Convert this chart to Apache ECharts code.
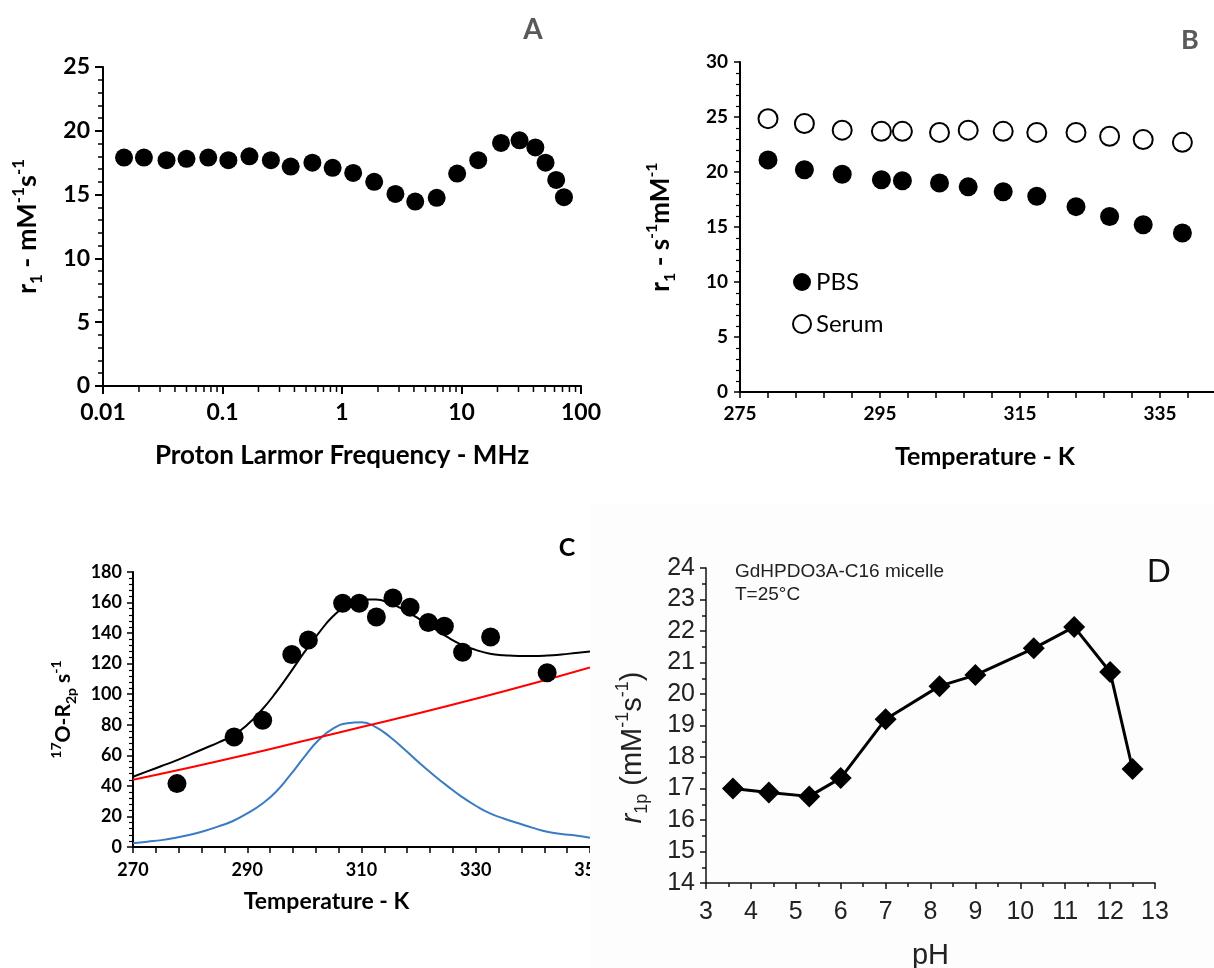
<!DOCTYPE html>
<html><head><meta charset="utf-8">
<script src="https://cdn.jsdelivr.net/npm/echarts@6/dist/echarts.min.js"></script>
<style>
html,body{margin:0;padding:0;background:#fff;width:1214px;height:968px;overflow:hidden;}
.p{position:absolute;overflow:hidden;}
#pa{left:0;top:0;width:607px;height:490px;}
#pb{left:607px;top:0;width:607px;height:490px;}
#pc{left:0;top:490px;width:590px;height:478px;}
#pd{left:590px;top:505px;width:624px;height:463px;background:#fdfdfd;}
</style></head><body>
<div id="pa" class="p"></div>
<div id="pb" class="p"></div>
<div id="pc" class="p"></div>
<div id="pd" class="p"></div>
<script>
// ---------- Panel A: NMRD profile ----------
const freqA = [0.015, 0.022, 0.034, 0.05, 0.076, 0.112, 0.168, 0.254, 0.372, 0.565, 0.835, 1.24, 1.86, 2.8, 4.1, 6.2, 9.2, 13.8, 21.4, 30.6, 41.5, 50.5, 62, 72];
const r1A = [17.9, 17.9, 17.7, 17.8, 17.9, 17.7, 18.0, 17.7, 17.2, 17.5, 17.1, 16.7, 16.0, 15.05, 14.45, 14.75, 16.65, 17.7, 19.05, 19.25, 18.7, 17.5, 16.15, 14.8];
const xMinorA = [0.02,0.03,0.04,0.05,0.06,0.07,0.08,0.09, 0.2,0.3,0.4,0.5,0.6,0.7,0.8,0.9, 2,3,4,5,6,7,8,9, 20,30,40,50,60,70,80,90];

// ---------- Panel B: r1 vs temperature ----------
const tempB = [279, 284.2, 289.6, 295.2, 298.2, 303.5, 307.6, 312.6, 317.4, 323, 327.8, 332.6, 338.2];
const pbsB = [21.1, 20.2, 19.8, 19.3, 19.2, 19.0, 18.65, 18.2, 17.8, 16.85, 15.95, 15.2, 14.45];
const serumB = [24.85, 24.4, 23.8, 23.7, 23.7, 23.6, 23.8, 23.7, 23.6, 23.6, 23.25, 22.95, 22.7];
const xLabelsB = [275, 295, 315, 335];
const xTicksB = [275,279,283,287,291,295,299,303,307,311,315,319,323,327,331,335,339,343];

// ---------- Panel C: 17O R2p ----------
const tempC = [277.7, 287.7, 292.7, 297.8, 300.7, 306.7, 309.6, 312.6, 315.5, 318.5, 321.7, 324.5, 327.7, 332.6, 342.5];
const r2pC = [41.5, 72, 83, 126, 135.5, 159.5, 159.5, 150.5, 163, 157, 147, 144.5, 127.5, 137.5, 114];
const fitTempC = [270,272.5,275,277.5,280,282.5,285,287.5,290,292.5,295,297.5,300,302.5,305,307.5,310,312.5,315,317.5,320,322.5,325,327.5,330,332.5,335,337.5,340,342.5,345,347.5,350];
const fitTotalC = [46,49.5,53,56.5,60.5,64.5,68.5,73,80,89.5,101,114,127.5,140,151,158.5,162,162,159.5,155,149.5,143.5,137.5,132.5,129,126.5,125.5,125,125,125.3,126,127,128];
const fitBlueC = [2.5,3.5,4.5,6,8,10.5,13.5,17,22,28,36,47,59,70,77.5,81,81.7,78.5,72,64,55.5,47.5,40,33,27,22,18.5,15.5,12.5,10,8.5,7.5,6];
const redTempC = [270, 280, 290, 300, 310, 320, 330, 340, 350];
const redC = [44, 52, 60.5, 69.5, 78.5, 87.5, 97, 107, 117.5];
const xLabelsC = [270, 290, 310, 330, 350];
const xTicksC = [270,274,278,282,286,290,294,298,302,306,310,314,318,322,326,330,334,338,342,346,350];

// ---------- Panel D: r1p vs pH ----------
const phD = [3.6, 4.4, 5.3, 6.0, 7.0, 8.2, 9.0, 10.3, 11.2, 12.0, 12.5];
const r1pD = [17.0, 16.87, 16.75, 17.33, 19.2, 20.25, 20.6, 21.45, 22.13, 20.7, 17.62];

const CAL = 'Lato, "Open Sans", sans-serif';
const ARI = '"Liberation Sans", Arial, sans-serif';
const zip = (a, b) => a.map((v, i) => [v, b[i]]);
const txt = (size, weight, fam, color) => ({fontSize: size, fontWeight: weight, fontFamily: fam, color: color || '#000'});
function richSet(size, fam, weight, color, subSize) {
  const base = {fontSize: size, fontWeight: weight, fontFamily: fam, color: color};
  return {
    b: Object.assign({}, base, {lineHeight: size + 8}),
    i: Object.assign({}, base, {lineHeight: size + 8, fontStyle: 'italic'}),
    sub: Object.assign({}, base, {fontSize: subSize, lineHeight: subSize, verticalAlign: 'bottom'}),
    sup: Object.assign({}, base, {fontSize: subSize, lineHeight: subSize, verticalAlign: 'top'})
  };
}
const blackLine = (w) => ({lineStyle: {color: '#000', width: w}});
const dot = {color: '#000', opacity: 1};

// ===== A =====
const chA = echarts.init(document.getElementById('pa'));
chA.setOption({
  animation: false,
  grid: {left: 103, top: 67, width: 478, height: 319, outerBoundsMode: 'none'},
  graphic: [{type: 'text', x: 533, y: 30, style: {text: 'A', font: 'bold 28px Lato', fill: '#595959', align: 'center', verticalAlign: 'middle'}}],
  xAxis: {
    type: 'log', logBase: 10, min: 0.01, max: 100, splitNumber: 4,
    axisLine: Object.assign({show: true}, blackLine(2)),
    axisTick: Object.assign({show: true, length: 8, inside: false}, blackLine(2)),
    axisLabel: Object.assign({margin: 15, formatter: v => String(+Number(v).toPrecision(3))}, txt(23, 'bold', CAL)),
    splitLine: {show: false},
    name: 'Proton Larmor Frequency - MHz', nameLocation: 'middle', nameGap: 57,
    nameTextStyle: txt(26, 'bold', CAL)
  },
  yAxis: {
    type: 'value', min: 0, max: 25, interval: 5,
    axisLine: Object.assign({show: true}, blackLine(2)),
    axisTick: Object.assign({show: true, length: 8}, blackLine(2)),
    minorTick: Object.assign({show: true, splitNumber: 5, length: 5}, blackLine(1.5)),
    axisLabel: Object.assign({margin: 13}, txt(23, 'bold', CAL)),
    splitLine: {show: false},
    name: '{b|r}{sub|1}{b| - mM}{sup|-1}{b|s}{sup|-1}', nameLocation: 'middle', nameGap: 58,
    nameTextStyle: {rich: richSet(27, CAL, 'bold', '#000', 17)}
  },
  series: [
    {type: 'scatter', data: zip(freqA, r1A), symbol: 'circle', symbolSize: 18, itemStyle: dot, z: 5},
    {type: 'scatter', data: xMinorA.map(f => [f, 0]), symbol: 'rect', symbolSize: [1.5, 5], symbolOffset: [0, 3.5], itemStyle: dot, clip: false, silent: true, z: 1}
  ]
});

// ===== B =====
const chB = echarts.init(document.getElementById('pb'));
chB.setOption({
  animation: false,
  grid: {left: 133, top: 62, width: 490, height: 330, outerBoundsMode: 'none'},
  graphic: [{type: 'text', x: 583, y: 40, style: {text: 'B', font: 'bold 27px Lato', fill: '#595959', align: 'center', verticalAlign: 'middle'}}],
  legend: {
    orient: 'vertical', left: 180, top: 265, itemGap: 18, itemWidth: 18, itemHeight: 18,
    textStyle: txt(24, 'normal', CAL), data: ['PBS', 'Serum']
  },
  xAxis: {
    type: 'value', min: 275, max: 345,
    axisLine: Object.assign({show: true, onZero: false}, blackLine(2)),
    axisTick: Object.assign({show: true, length: 6, customValues: xTicksB}, blackLine(1.5)),
    axisLabel: Object.assign({margin: 12, customValues: xLabelsB}, txt(19, 'bold', CAL)),
    splitLine: {show: false},
    name: 'Temperature - K', nameLocation: 'middle', nameGap: 52,
    nameTextStyle: txt(25, 'bold', CAL)
  },
  yAxis: {
    type: 'value', min: 0, max: 30, interval: 5,
    axisLine: Object.assign({show: true}, blackLine(2)),
    axisTick: Object.assign({show: true, length: 6}, blackLine(1.5)),
    minorTick: Object.assign({show: true, splitNumber: 5, length: 4}, blackLine(1.2)),
    axisLabel: Object.assign({margin: 12}, txt(19, 'bold', CAL)),
    splitLine: {show: false},
    name: '{b|r}{sub|1}{b| - s}{sup|-1}{b|mM}{sup|-1}', nameLocation: 'middle', nameGap: 62,
    nameTextStyle: {rich: richSet(26, CAL, 'bold', '#000', 16)}
  },
  series: [
    {name: 'PBS', type: 'scatter', data: zip(tempB, pbsB), symbol: 'circle', symbolSize: 19, itemStyle: dot},
    {name: 'Serum', type: 'scatter', data: zip(tempB, serumB), symbol: 'circle', symbolSize: 19, itemStyle: {color: '#fff', borderColor: '#000', borderWidth: 2, opacity: 1}}
  ]
});

// ===== C =====
const chC = echarts.init(document.getElementById('pc'));
chC.setOption({
  animation: false,
  grid: {left: 133, top: 82, width: 457, height: 275, outerBoundsMode: 'none'},
  graphic: [{type: 'text', x: 567, y: 58, style: {text: 'C', font: 'bold 25px Lato', fill: '#000', align: 'center', verticalAlign: 'middle'}}],
  xAxis: {
    type: 'value', min: 270, max: 350,
    axisLine: Object.assign({show: true, onZero: false}, blackLine(2)),
    axisTick: Object.assign({show: true, length: 6, customValues: xTicksC}, blackLine(1.5)),
    axisLabel: Object.assign({margin: 14, customValues: xLabelsC}, txt(18, 'bold', CAL)),
    splitLine: {show: false},
    name: 'Temperature - K', nameLocation: 'middle', nameGap: 43,
    nameTextStyle: Object.assign({padding: [0, 70, 0, 0]}, txt(23, 'bold', CAL))
  },
  yAxis: {
    type: 'value', min: 0, max: 180, interval: 20,
    axisLine: Object.assign({show: true}, blackLine(2)),
    axisTick: Object.assign({show: true, length: 6}, blackLine(1.5)),
    minorTick: Object.assign({show: true, splitNumber: 5, length: 4}, blackLine(1.2)),
    axisLabel: Object.assign({margin: 11}, txt(18, 'bold', CAL)),
    splitLine: {show: false},
    name: '{sup|17}{b|O-R}{sub|2p}{b| s}{sup|-1}', nameLocation: 'middle', nameGap: 55,
    nameTextStyle: {rich: richSet(21, CAL, 'bold', '#000', 14)}
  },
  series: [
    {type: 'line', data: zip(fitTempC, fitBlueC), showSymbol: false, smooth: true, lineStyle: {color: '#3a7cc4', width: 2}, itemStyle: {color: '#3a7cc4'}, z: 2},
    {type: 'line', data: zip(redTempC, redC), showSymbol: false, smooth: true, lineStyle: {color: '#ff0000', width: 2}, itemStyle: {color: '#ff0000'}, z: 2},
    {type: 'line', data: zip(fitTempC, fitTotalC), showSymbol: false, smooth: true, lineStyle: {color: '#000', width: 2}, itemStyle: {color: '#000'}, z: 3},
    {type: 'scatter', data: zip(tempC, r2pC), symbol: 'circle', symbolSize: 19, itemStyle: dot, z: 5}
  ]
});

// ===== D =====
const chD = echarts.init(document.getElementById('pd'));
chD.setOption({
  animation: false,
  grid: {left: 116, top: 63, width: 449, height: 315, outerBoundsMode: 'none'},
  graphic: [
    {type: 'text', x: 145, y: 67, style: {text: 'GdHPDO3A-C16 micelle', font: '19px "Liberation Sans", Arial', fill: '#222', align: 'left', verticalAlign: 'middle'}},
    {type: 'text', x: 145, y: 90, style: {text: 'T=25°C', font: '19px "Liberation Sans", Arial', fill: '#222', align: 'left', verticalAlign: 'middle'}},
    {type: 'text', x: 569, y: 68, style: {text: 'D', font: '33px "Liberation Sans", Arial', fill: '#111', align: 'center', verticalAlign: 'middle'}}
  ],
  xAxis: {
    type: 'value', min: 3, max: 13, interval: 1,
    axisLine: {show: true, onZero: false, lineStyle: {color: '#111', width: 1.5}},
    axisTick: {show: true, length: 6, lineStyle: {color: '#111', width: 1.5}},
    minorTick: {show: true, splitNumber: 2, length: 4, lineStyle: {color: '#111', width: 1.5}},
    axisLabel: Object.assign({margin: 17}, txt(25, 'normal', ARI, '#222')),
    splitLine: {show: false},
    name: 'pH', nameLocation: 'middle', nameGap: 58,
    nameTextStyle: txt(29, 'normal', ARI, '#222')
  },
  yAxis: {
    type: 'value', min: 14, max: 24, interval: 1,
    axisLine: {show: true, lineStyle: {color: '#111', width: 1.5}},
    axisTick: {show: true, length: 6, lineStyle: {color: '#111', width: 1.5}},
    minorTick: {show: true, splitNumber: 2, length: 4, lineStyle: {color: '#111', width: 1.5}},
    axisLabel: Object.assign({margin: 11}, txt(25, 'normal', ARI, '#222')),
    splitLine: {show: false},
    name: '{i|r}{sub|1p}{b| (mM}{sup|-1}{b|s}{sup|-1}{b|)}', nameLocation: 'middle', nameGap: 55,
    nameTextStyle: {padding: [0, 44, 0, 0], rich: richSet(29, ARI, 'normal', '#222', 18)}
  },
  series: [
    {type: 'line', data: zip(phD, r1pD), symbol: 'diamond', symbolSize: 22, showAllSymbol: true,
     lineStyle: {color: '#000', width: 3}, itemStyle: {color: '#000', opacity: 1}}
  ]
});
</script>
</body></html>
